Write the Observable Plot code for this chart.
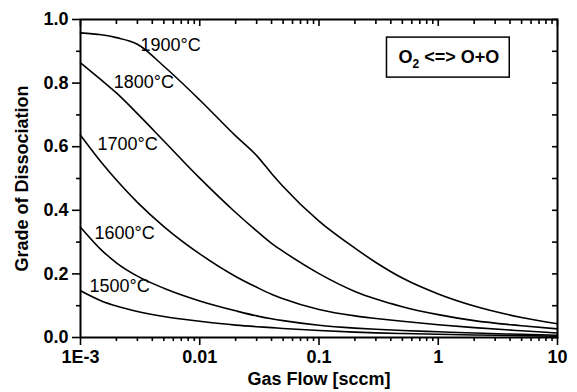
<!DOCTYPE html>
<html>
<head>
<meta charset="utf-8">
<script src="https://cdn.jsdelivr.net/npm/d3@7"></script>
<script src="https://cdn.jsdelivr.net/npm/@observablehq/plot@0.6"></script>
<style>
  html, body { margin: 0; padding: 0; background: #fff; }
  #chart { width: 577px; height: 392px; }
</style>
</head>
<body>
<div id="chart"></div>
<script>
// ---- data ----
const temps = ["1900°C", "1800°C", "1700°C", "1600°C", "1500°C"];

// gas flow [sccm] sample points (shared by all series)
const flowGrid = [0.001, 0.0015, 0.002, 0.003, 0.005, 0.01, 0.02, 0.03, 0.04, 0.05, 0.1, 0.2, 0.3, 0.5, 1, 2, 5, 10];

// grade of dissociation per temperature
const diss1900 = [0.958, 0.952, 0.943, 0.922, 0.853, 0.747, 0.634, 0.572, 0.516, 0.475, 0.366, 0.281, 0.236, 0.187, 0.137, 0.099, 0.063, 0.043];
const diss1800 = [0.864, 0.809, 0.769, 0.704, 0.618, 0.501, 0.393, 0.335, 0.296, 0.271, 0.201, 0.145, 0.121, 0.097, 0.072, 0.053, 0.037, 0.027];
const diss1700 = [0.636, 0.55, 0.495, 0.425, 0.349, 0.263, 0.192, 0.158, 0.136, 0.122, 0.088, 0.068, 0.06, 0.051, 0.04, 0.031, 0.021, 0.014];
const diss1600 = [0.347, 0.275, 0.235, 0.193, 0.155, 0.115, 0.084, 0.068, 0.059, 0.053, 0.0386, 0.0296, 0.0258, 0.022, 0.018, 0.014, 0.01, 0.007];
const diss1500 = [0.147, 0.115, 0.099, 0.082, 0.066, 0.051, 0.039, 0.034, 0.031, 0.0285, 0.022, 0.017, 0.0145, 0.0125, 0.01, 0.008, 0.006, 0.004];

// curve label anchors (data coordinates)
const labelFlow = [0.00318, 0.0019, 0.00139, 0.00131, 0.00119];
const labelDiss = [0.919, 0.803, 0.607, 0.328, 0.16];

// reaction annotation
const reactionParts = ["O", "2", " <=> O+O"];
const reactionFlow = [0.464];
const reactionDiss = [0.881];

// axes
const xMajor = [0.001, 0.01, 0.1, 1, 10];
const xTickLabels = ["1E-3", "0.01", "0.1", "1", "10"];
const xMinor = [0.002,0.003,0.004,0.005,0.006,0.007,0.008,0.009,
                0.02,0.03,0.04,0.05,0.06,0.07,0.08,0.09,
                0.2,0.3,0.4,0.5,0.6,0.7,0.8,0.9,
                2,3,4,5,6,7,8,9];
const yMajor = [0, 0.2, 0.4, 0.6, 0.8, 1.0];
const yMinor = [0.1, 0.3, 0.5, 0.7, 0.9];
const xTitle = "Gas Flow [sccm]";
const yTitle = "Grade of Dissociation";

// ---- build table ----
const seriesDiss = [diss1900, diss1800, diss1700, diss1600, diss1500];
const rows = [];
temps.forEach((t, i) => flowGrid.forEach((f, j) => rows.push({temp: t, flow: f, diss: seriesDiss[i][j]})));
const labels = temps.map((t, i) => ({temp: t, flow: labelFlow[i], diss: labelDiss[i]}));
const reaction = reactionFlow.map((f, i) => ({text: reactionParts.join(""), flow: f, diss: reactionDiss[i]}));

const blank = () => "";
const svg = Plot.plot({
  width: 577,
  height: 392,
  marginLeft: 80,
  marginRight: 20,
  marginTop: 19,
  marginBottom: 55,
  style: {fontFamily: "'Liberation Sans', Arial, sans-serif", fontSize: "18px", background: "#fff", color: "#000"},
  x: {type: "log", domain: [0.001, 10]},
  y: {domain: [0, 1]},
  marks: [
    Plot.line(rows, {x: "flow", y: "diss", z: "temp", stroke: "#000", strokeWidth: 1.6, curve: "monotone-x"}),
    Plot.frame({stroke: "#000", strokeWidth: 2}),
    Plot.axisY(yMajor, {anchor: "left", tickSize: 8, tickPadding: 4, strokeWidth: 1.6, tickFormat: d => d.toFixed(1), label: null, fontSize: 18, fontWeight: "bold"}),
    Plot.axisY(yMinor, {anchor: "left", tickSize: 4, strokeWidth: 1.6, tickFormat: blank, label: null}),
    Plot.axisY(yMajor.concat(yMinor), {anchor: "right", tickSize: -6, strokeWidth: 1.6, tickFormat: blank, label: null}),
    Plot.axisX(xMajor, {anchor: "bottom", tickSize: 8, tickPadding: 5, strokeWidth: 1.6, tickFormat: d => xTickLabels[xMajor.indexOf(d)], label: null, fontSize: 18, fontWeight: "bold"}),
    Plot.axisX(xMinor, {anchor: "bottom", tickSize: 4, strokeWidth: 1.6, tickFormat: blank, label: null}),
    Plot.axisX(xMajor, {anchor: "top", tickSize: -6, strokeWidth: 1.6, tickFormat: blank, label: null}),
    Plot.axisX(xMinor, {anchor: "top", tickSize: -4, strokeWidth: 1.6, tickFormat: blank, label: null}),
    Plot.text(labels, {x: "flow", y: "diss", text: "temp", textAnchor: "start", fontSize: 18, fill: "#000"}),
    Plot.text(reaction, {x: "flow", y: "diss", text: "text", textAnchor: "start", fontSize: 18, fontWeight: "bold", fill: "#000"}),
    Plot.text([yTitle], {frameAnchor: "left", dx: -58, rotate: -90, textAnchor: "middle", lineAnchor: "middle", fontSize: 18, fontWeight: "bold", fill: "#000"}),
    Plot.text([xTitle], {frameAnchor: "bottom", dy: 42, textAnchor: "middle", lineAnchor: "middle", fontSize: 18, fontWeight: "bold", fill: "#000"})
  ]
});
document.getElementById("chart").appendChild(svg);

// subscript and box for the reaction annotation
const ns = "http://www.w3.org/2000/svg";
const rt = [...svg.querySelectorAll("text")].find(n => n.textContent === reactionParts.join(""));
if (rt) {
  rt.textContent = "";
  const a = document.createElementNS(ns, "tspan"); a.textContent = reactionParts[0];
  const s = document.createElementNS(ns, "tspan"); s.textContent = reactionParts[1];
  s.setAttribute("font-size", "12"); s.setAttribute("dy", "5");
  const b = document.createElementNS(ns, "tspan"); b.textContent = reactionParts[2];
  b.setAttribute("dy", "-5");
  rt.append(a, s, b);
  const bb = rt.getBBox();
  const r = document.createElementNS(ns, "rect");
  r.setAttribute("x", bb.x - 12);
  r.setAttribute("y", bb.y - 10);
  r.setAttribute("width", bb.width + 22);
  r.setAttribute("height", bb.height + 16);
  r.setAttribute("fill", "#fff");
  r.setAttribute("stroke", "#000");
  r.setAttribute("stroke-width", "1.5");
  const tr = rt.getAttribute("transform");
  if (tr) r.setAttribute("transform", tr);
  rt.parentNode.insertBefore(r, rt);
}
</script>
</body>
</html>
